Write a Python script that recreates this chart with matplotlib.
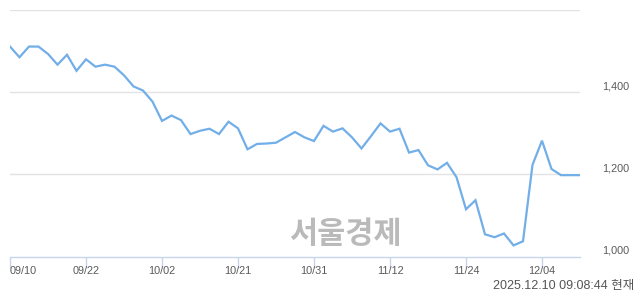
import matplotlib
matplotlib.use("Agg")
import matplotlib.pyplot as plt
import matplotlib.transforms as mtransforms

dates = ["09/10", "09/11", "09/12", "09/15", "09/16", "09/17", "09/18", "09/19",
         "09/22", "09/23", "09/24", "09/25", "09/26", "09/29", "09/30", "10/01",
         "10/02", "10/10", "10/13", "10/14", "10/15", "10/16", "10/17", "10/20",
         "10/21", "10/22", "10/23", "10/24", "10/27", "10/28", "10/29", "10/30",
         "10/31", "11/03", "11/04", "11/05", "11/06", "11/07", "11/10", "11/11",
         "11/12", "11/13", "11/14", "11/17", "11/18", "11/19", "11/20", "11/21",
         "11/24", "11/25", "11/26", "11/27", "11/28", "12/01", "12/02", "12/03",
         "12/04", "12/05", "12/08", "12/09", "12/10"]
prices = [1511, 1485, 1511, 1511, 1493, 1467, 1491, 1452, 1480, 1462,
          1467, 1462, 1441, 1414, 1404, 1377, 1330, 1343, 1332, 1298,
          1306, 1311, 1298, 1328, 1312, 1261, 1274, 1275, 1277, 1290,
          1303, 1290, 1281, 1318, 1304, 1312, 1290, 1263, 1293, 1324,
          1304, 1311, 1253, 1259, 1222, 1212, 1228, 1193, 1115, 1137,
          1054, 1047, 1056, 1027, 1037, 1223, 1282, 1213, 1198, 1198, 1198]
tick_idx = [0, 8, 16, 24, 32, 40, 48, 56]
y_grid = [1200, 1400, 1600]
y_labels = {1000: "1,000", 1200: "1,200", 1400: "1,400"}
timestamp = "2025.12.10 09:08:44 현재"
watermark = "서울경제"

fig = plt.figure(figsize=(6.4, 2.94), dpi=100)
ax = fig.add_axes([10/640, 1-256.5/294, 570/640, 246.5/294])

x = list(range(len(prices)))
for g in y_grid:
    ax.axhline(g, color="#e3e3e3", lw=1.0, zorder=1)
ax.plot(x, prices, color="#72aee8", lw=1.6, zorder=3, solid_joinstyle="miter")

ax.set_xlim(0, len(prices)-1)
ax.set_ylim(1000, 1600)
for s in ["left", "right", "top"]:
    ax.spines[s].set_visible(False)
ax.spines["bottom"].set_color("#c8d6ec")
ax.spines["bottom"].set_linewidth(1.0)
ax.set_yticks([])
ax.set_xticks(tick_idx)
labels = ax.set_xticklabels([dates[i] for i in tick_idx], fontsize=7.8,
                            color="#5a5a5a", family="Liberation Sans")
labels[0].set_horizontalalignment("left")
ax.tick_params(axis="x", length=8, width=1, color="#c8d6ec", pad=-1)

trans = mtransforms.blended_transform_factory(ax.transAxes, ax.transData)
off = mtransforms.ScaledTranslation(0, 1/100, fig.dpi_scale_trans)
for v, lab in y_labels.items():
    ax.text(1.063, v, lab, transform=trans + off, ha="center", va="bottom",
            fontsize=7.8, color="#5a5a5a", family="Liberation Sans")

fig.text(345/640, 1-234/294, watermark, ha="center", va="center",
         fontsize=22, fontweight="heavy", color="#bababa",
         family=["Noto Sans CJK KR", "DejaVu Sans"])
fig.text(634/640, 1-286/294, timestamp, ha="right", va="center",
         fontsize=9, color="#555555",
         family=["Liberation Sans", "Noto Sans CJK KR"])

fig.savefig("out.png", dpi=100)
